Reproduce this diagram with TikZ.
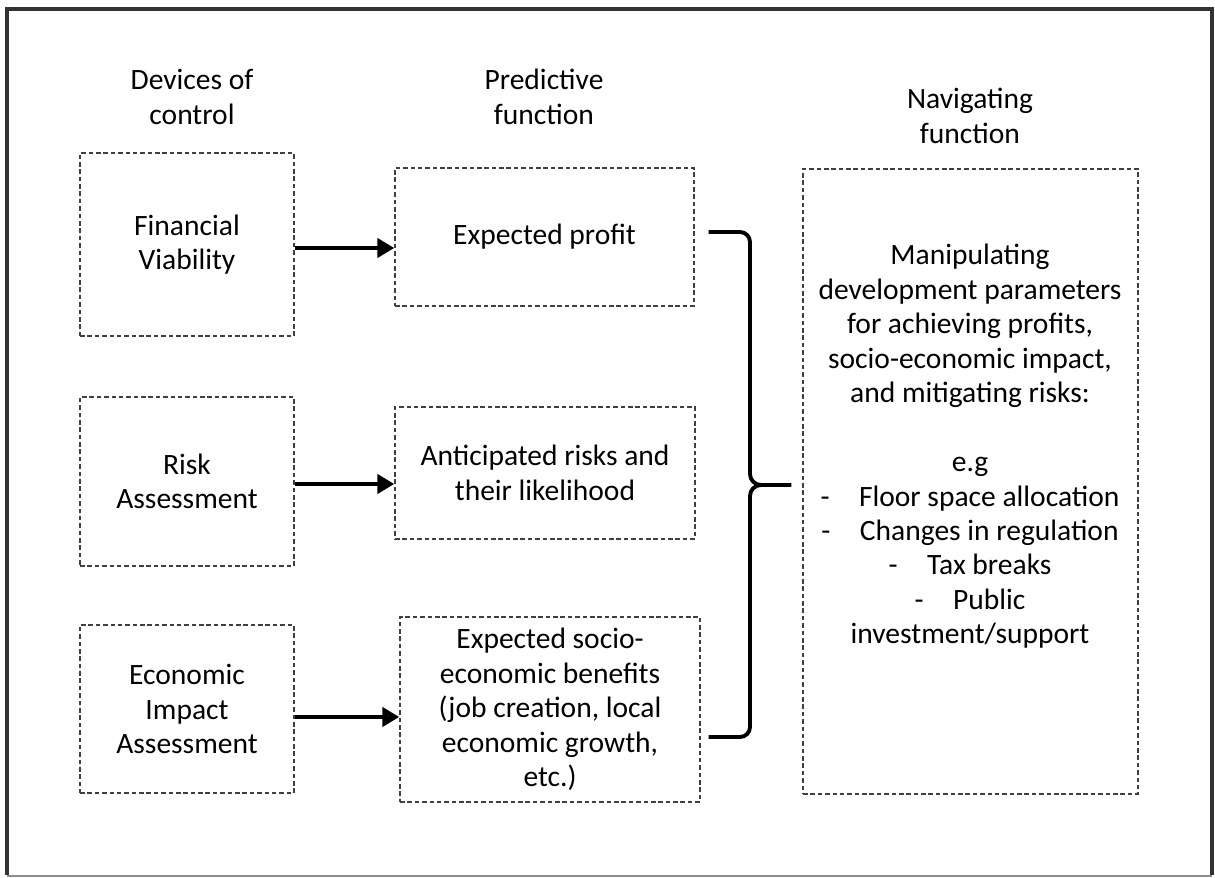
\documentclass[tikz,border=0pt]{standalone}
\usepackage{fontspec}
\setmainfont{Carlito}
\usetikzlibrary{arrows.meta}
\tikzset{
    dotbox/.style = {draw = black!75, line width = 0.8pt, dash pattern = on 2.6pt off 1.6pt, align = center, inner sep = 0pt},
    thickarrow/.style = {line width = 2.8pt, -{Triangle[length = 0.34cm, width = 0.38cm]}},
    brace/.style = {line width = 2.2pt}
}
\begin{document}
\begin{tikzpicture}[every node/.append style = {font = \fontsize{16.8pt}{19.6pt}\selectfont}]
        \useasboundingbox (0,0) rectangle (24.3,-17.56);
        \draw[line width = 2.2pt, black!80] (0.14,-17.5) -- (0.14,-0.18) -- (24.24,-0.18) -- (24.24,-17.5);
        \draw[line width = 1pt, black!45] (0.14,-17.52) -- (24.24,-17.52);
        % column headings
        \node[align = center] (devices) at (3.84,-1.94) {Devices of\\control};
        \node[align = center] (predictive) at (10.88,-1.94) {Predictive\\function};
        \node[align = center] (navigating) at (19.40,-2.32) {Navigating\\function};
        % devices of control
        \node[dotbox, minimum width = 4.28cm, minimum height = 3.66cm] (finance) at (3.74,-4.89) {Financial\\Viability};
        \node[dotbox, minimum width = 4.28cm, minimum height = 3.38cm] (risk) at (3.74,-9.63) {Risk\\Assessment};
        \node[dotbox, minimum width = 4.28cm, minimum height = 3.36cm] (impact) at (3.74,-14.18) {Economic\\Impact\\Assessment};
        % predictive function
        \node[dotbox, minimum width = 5.98cm, minimum height = 2.76cm] (profit) at (10.89,-4.74) {Expected profit};
        \node[dotbox, minimum width = 6cm, minimum height = 2.64cm] (risks) at (10.90,-9.46) {Anticipated risks and\\their likelihood};
        \node[dotbox, minimum width = 6cm, minimum height = 3.7cm] (benefits) at (11.0,-14.19) {Expected socio-\\economic benefits\\(job creation, local\\economic growth,\\etc.)};
        % navigating function
        \node[dotbox, minimum width = 6.7cm, minimum height = 12.5cm] (navbox) at (19.41,-9.63) {};
        \node[align = center] (navtext) at (19.40,-8.93) {Manipulating\\development parameters\\for achieving profits,\\socio-economic impact,\\and mitigating risks:\\[19.6pt]e.g\\-\hspace{1em}Floor space allocation\\-\hspace{1em}Changes in regulation\\-\hspace{1em}Tax breaks\\-\hspace{1em}Public\\investment/support};
        \foreach \from/\to/\s in {finance/profit/0.07, risk/risks/0.05, impact/benefits/0.16}
            \draw[thickarrow] ([yshift = -\s cm]\from.east) -- ([yshift = -\s cm]\from.east -| \to.west);
        % brace
        \coordinate (bracetop) at ([xshift = 0.28cm, yshift = 0.1cm]profit.east);
        \coordinate (bracebot) at ([xshift = 0.16cm, yshift = -0.55cm]benefits.east);
        \coordinate (bracetip) at ([xshift = -0.22cm, yshift = -0.07cm]navbox.west);
        \draw[brace] (bracetop) -- (14.8,-4.64) to[out = 0, in = 90] (15.0,-4.84) -- (15.0,-9.48)
            to[out = -90, in = 180] (15.22,-9.70) to[out = 180, in = 90] (15.0,-9.92) -- (15.0,-14.54)
            to[out = -90, in = 0] (14.8,-14.74) -- (bracebot);
        \draw[brace] (15.22,-9.70) -- (bracetip);
    \end{tikzpicture}
\end{document}
